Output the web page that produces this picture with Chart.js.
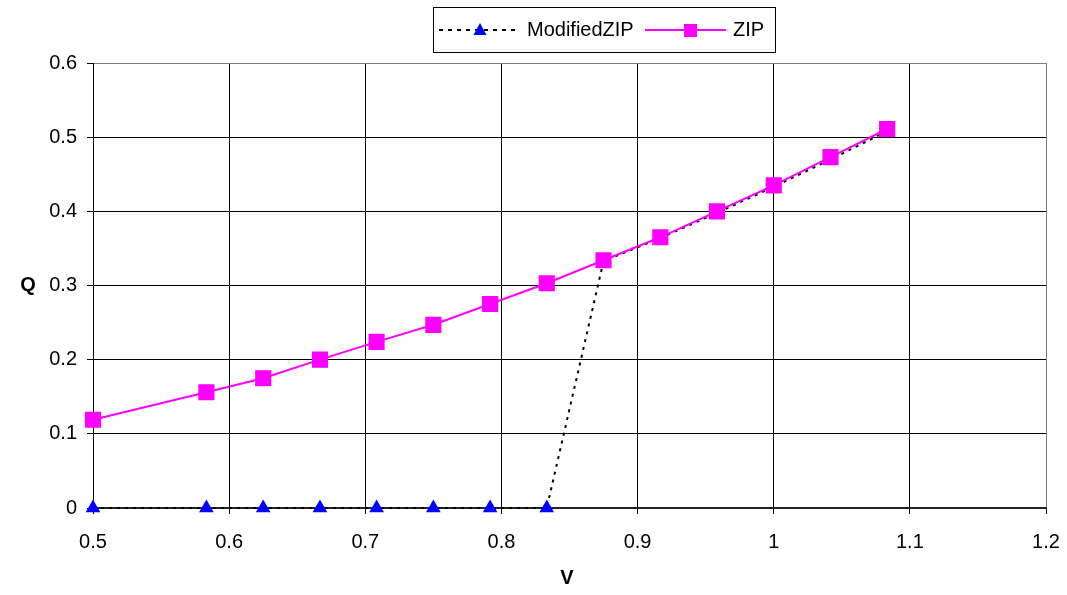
<!DOCTYPE html>
<html>
<head>
<meta charset="utf-8">
<title>Q vs V</title>
<script src="https://cdn.jsdelivr.net/npm/chart.js@4/dist/chart.umd.min.js"></script>
<style>
  html, body { margin: 0; padding: 0; background: #fff; }
  #wrap { width: 1067px; height: 595px; }
</style>
</head>
<body>
<div id="wrap"><canvas id="chart" width="1067" height="595"></canvas></div>
<script>
/* Q vs V — ZIP and modified ZIP load model */
const vValues   = [0.5, 0.5833, 0.625, 0.6667, 0.7083, 0.75, 0.7917, 0.8333, 0.875, 0.9167, 0.9583, 1.0, 1.0417, 1.0833];
const zipQ      = [0.119, 0.156, 0.175, 0.200, 0.224, 0.247, 0.275, 0.303, 0.334, 0.365, 0.400, 0.435, 0.473, 0.511];
const modZipQ   = [0, 0, 0, 0, 0, 0, 0, 0, 0.333, 0.364, 0.398, 0.433, 0.470, 0.508];
const seriesNames = ['ModifiedZIP', 'ZIP'];
const xTicks = [0.5, 0.6, 0.7, 0.8, 0.9, 1, 1.1, 1.2];
const yTicks = [0, 0.1, 0.2, 0.3, 0.4, 0.5, 0.6];

const FONT = '"Liberation Sans", Arial, sans-serif';
const toPoints = (ys) => vValues.map((v, i) => ({ x: v, y: ys[i] }));

// legend box + axis titles drawn by hand, Excel style
const extras = {
  id: 'extras',
  afterDraw(chart) {
    const ctx = chart.ctx;
    ctx.save();
    // legend frame
    ctx.strokeStyle = '#000';
    ctx.lineWidth = 1;
    ctx.strokeRect(433.5, 7.5, 342, 45);

    // ModifiedZIP sample
    ctx.beginPath();
    ctx.setLineDash([4, 5]);
    ctx.lineWidth = 2;
    ctx.moveTo(439, 30);
    ctx.lineTo(518, 30);
    ctx.stroke();
    ctx.setLineDash([]);
    ctx.fillStyle = '#0000ff';
    ctx.beginPath();
    ctx.moveTo(480, 23);
    ctx.lineTo(486.5, 35);
    ctx.lineTo(473.5, 35);
    ctx.closePath();
    ctx.fill();

    // ZIP sample
    ctx.strokeStyle = '#ff00ff';
    ctx.beginPath();
    ctx.moveTo(645, 30);
    ctx.lineTo(726, 30);
    ctx.stroke();
    ctx.fillStyle = '#ff00ff';
    ctx.fillRect(684, 24, 13, 13);

    ctx.fillStyle = '#000';
    ctx.font = '20px ' + FONT;
    ctx.textBaseline = 'middle';
    ctx.textAlign = 'left';
    ctx.fillText(seriesNames[0], 527, 30);
    ctx.fillText(seriesNames[1], 733, 30);

    // axis titles
    ctx.font = 'bold 20px ' + FONT;
    ctx.textAlign = 'center';
    ctx.fillText('V', 567, 578);
    ctx.fillText('Q', 28, 285);
    ctx.restore();
  }
};

const gridColor = (last) => (c) => (c.index === last ? '#808080' : '#000');

new Chart(document.getElementById('chart').getContext('2d'), {
  type: 'line',
  data: {
    datasets: [
      {
        label: seriesNames[1], data: toPoints(zipQ),
        borderColor: '#ff00ff', backgroundColor: '#ff00ff', borderWidth: 2,
        pointStyle: 'rect', pointRadius: 10, pointHoverRadius: 10, tension: 0
      },
      {
        label: seriesNames[0], data: toPoints(modZipQ),
        borderColor: '#000', backgroundColor: '#0000ff', borderWidth: 2, borderDash: [3, 5],
        pointStyle: 'triangle', pointRadius: 8.5, pointHoverRadius: 8.5,
        pointBorderWidth: 0, tension: 0
      }
    ]
  },
  options: {
    responsive: false,
    animation: false,
    clip: false,
    layout: { padding: { top: 63, right: 21, left: 0, bottom: 0 } },
    plugins: { legend: { display: false }, tooltip: { enabled: false } },
    scales: {
      x: {
        type: 'linear', min: 0.5, max: 1.2,
        afterFit: (s) => { s.height = 87; s.paddingLeft = 0; s.paddingRight = 0; },
        afterBuildTicks: (s) => { s.ticks = xTicks.map(v => ({ value: v })); },
        grid: { color: gridColor(xTicks.length - 1), lineWidth: 1, tickLength: 6, tickColor: '#000' },
        border: { color: '#222', width: 2 },
        ticks: { color: '#000', padding: 16, font: { family: FONT, size: 20 }, callback: (v) => String(v) }
      },
      y: {
        type: 'linear', min: 0, max: 0.6,
        afterFit: (s) => { s.width = 93; s.paddingTop = 0; s.paddingBottom = 0; },
        afterBuildTicks: (s) => { s.ticks = yTicks.map(v => ({ value: v })); },
        grid: { color: gridColor(yTicks.length - 1), lineWidth: 1, tickLength: 6, tickColor: '#000' },
        border: { color: '#000', width: 1 },
        ticks: { color: '#000', padding: 10, font: { family: FONT, size: 20 }, callback: (v) => String(v) }
      }
    }
  },
  plugins: [extras]
});
</script>
</body>
</html>
